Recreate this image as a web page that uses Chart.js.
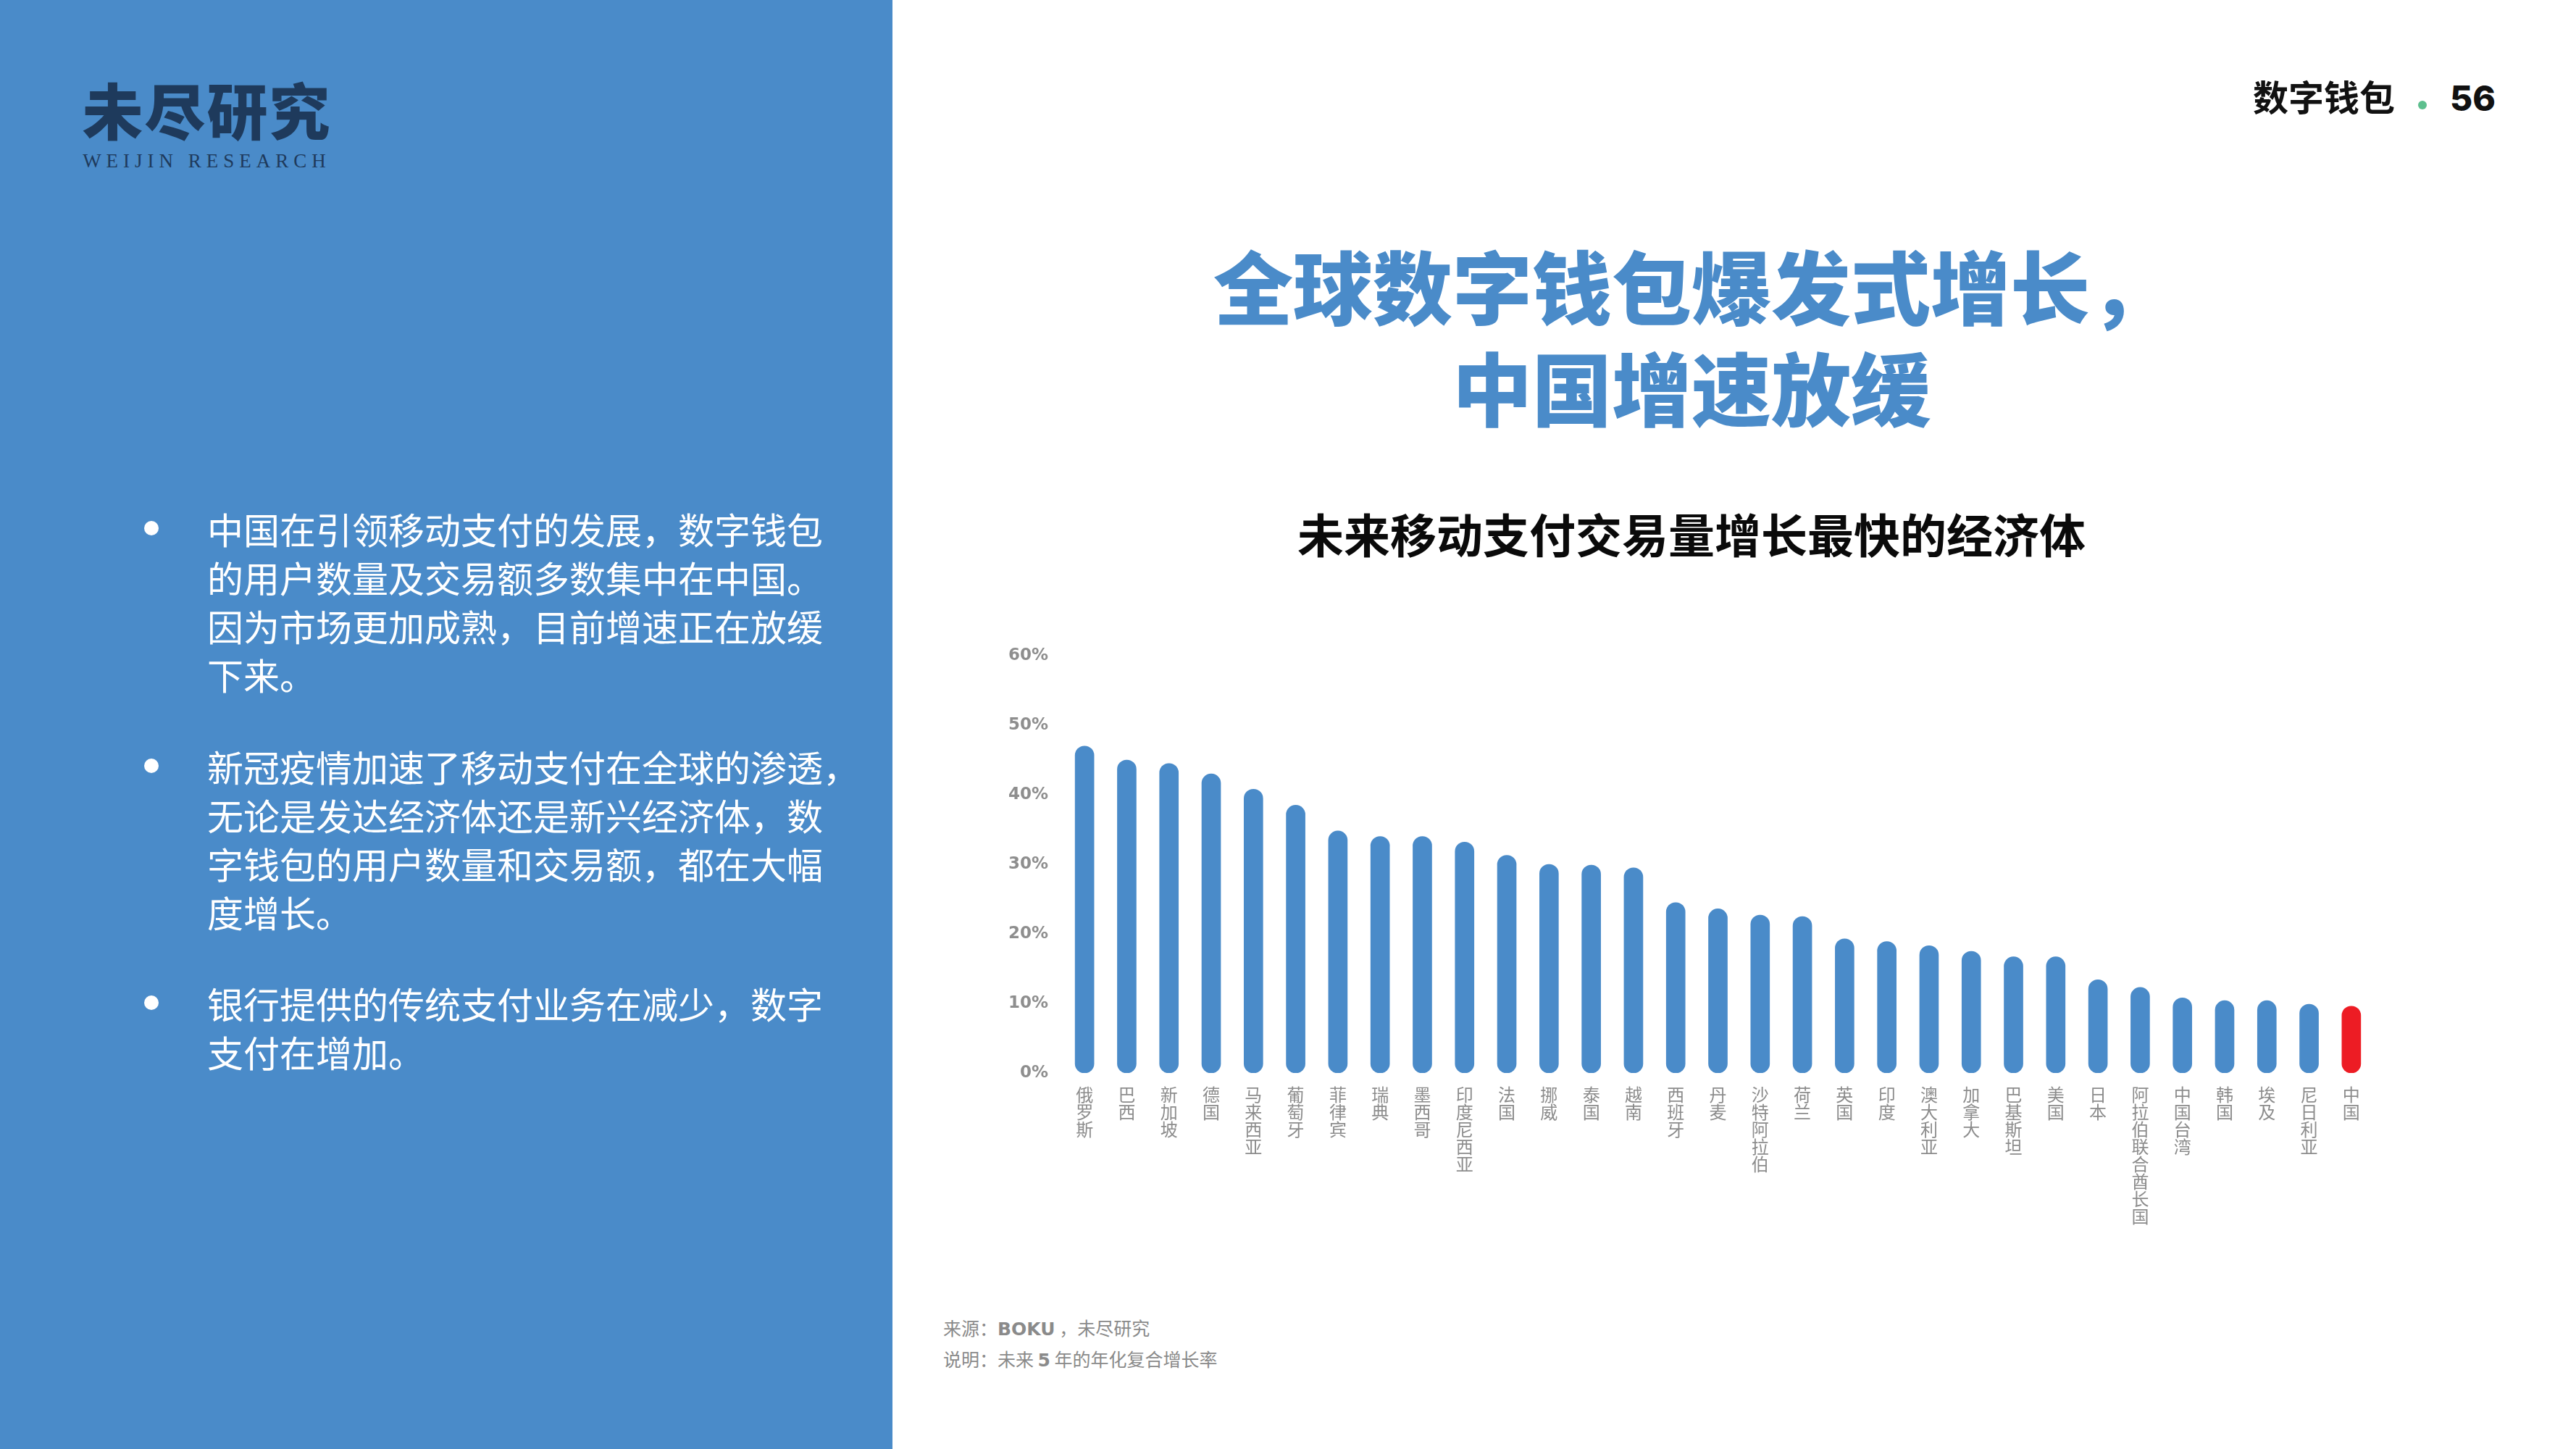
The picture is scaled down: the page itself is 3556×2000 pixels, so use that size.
<!DOCTYPE html>
<html>
<head>
<meta charset="utf-8">
<script src="https://cdn.jsdelivr.net/npm/chart.js@4.4.1/dist/chart.umd.min.js"></script>
<style>
  html, body { margin:0; padding:0; }
  body { width:3556px; height:2000px; position:relative; overflow:hidden; background:#ffffff; font-family:"Noto Sans CJK SC", sans-serif; }
  .panel { position:absolute; left:0; top:0; width:1232px; height:2000px; background:#4a8bc9; }
  .logo { position:absolute; left:108px; top:100px; width:355px; text-align:center; color:#1e3a5c; }
  .logo .cn { font-family:"Noto Sans CJK SC"; font-weight:900; font-size:84px; line-height:100px; letter-spacing:2px; }
  .logo .en { font-family:"Liberation Serif", "DejaVu Serif", serif; font-size:27px; line-height:30px; letter-spacing:7px; margin-top:7px; white-space:nowrap; }
  .bullet { position:absolute; left:286px; color:#ffffff; font-size:50px; line-height:67px; font-weight:400; white-space:nowrap; }
  .dot { position:absolute; width:20px; height:20px; border-radius:50%; background:#ffffff; }
  .header { position:absolute; top:102px; left:3110px; height:60px; line-height:60px; white-space:nowrap; color:#111; }
  .header .t { font-weight:700; font-size:49px; }
  .header .g { display:inline-block; width:12px; height:12px; border-radius:50%; background:#5dbf8e; vertical-align:middle; margin:0 32px 0 32px; position:relative; top:-4px; }
  .header .n { font-family:Inter, "Open Sans", sans-serif; font-weight:800; font-size:48px; }
  .title { position:absolute; left:1335px; width:2000px; top:322px; text-align:center; color:#4a8bc9; font-weight:900; font-size:110px; line-height:140px; }
  .ctitle { position:absolute; left:1335px; width:2000px; top:695px; text-align:center; color:#0a0a0a; font-weight:700; font-size:64px; line-height:80px; }
  .foot { position:absolute; left:1302px; top:1812px; color:#8a8a8a; font-size:25px; line-height:40px; white-space:nowrap; }
  .foot b { font-family:"DejaVu Sans", sans-serif; font-weight:700; }
  #wrap { position:absolute; left:1340px; top:860px; width:1960px; height:860px; }
</style>
</head>
<body>
<div class="panel"></div>
<div class="logo"><div class="cn">未尽研究</div><div class="en">WEIJIN RESEARCH</div></div>

<div class="dot" style="left:199px; top:719px;"></div>
<div class="bullet" style="top:696px;">中国在引领移动支付的发展，数字钱包<br>的用户数量及交易额多数集中在中国。<br>因为市场更加成熟，目前增速正在放缓<br>下来。</div>
<div class="dot" style="left:199px; top:1047px;"></div>
<div class="bullet" style="top:1024px;">新冠疫情加速了移动支付在全球的渗透，<br>无论是发达经济体还是新兴经济体，数<br>字钱包的用户数量和交易额，都在大幅<br>度增长。</div>
<div class="dot" style="left:199px; top:1374px;"></div>
<div class="bullet" style="top:1351px;">银行提供的传统支付业务在减少，数字<br>支付在增加。</div>

<div class="header"><span class="t">数字钱包</span><span class="g"></span><span class="n">56</span></div>
<div class="title">全球数字钱包爆发式增长，<br>中国增速放缓</div>
<div class="ctitle">未来移动支付交易量增长最快的经济体</div>

<div id="wrap"><canvas id="c"></canvas></div>

<div class="foot">来源：<b>BOKU</b> ，未尽研究<br>说明：未来 <b>5</b> 年的年化复合增长率</div>

<script>
const categories = ['俄罗斯','巴西','新加坡','德国','马来西亚','葡萄牙','菲律宾','瑞典','墨西哥','印度尼西亚','法国','挪威','泰国','越南','西班牙','丹麦','沙特阿拉伯','荷兰','英国','印度','澳大利亚','加拿大','巴基斯坦','美国','日本','阿拉伯联合酋长国','中国台湾','韩国','埃及','尼日利亚','中国'];
const growthRates = [47, 45, 44.5, 43, 40.8, 38.5, 34.8, 34, 34, 33.2, 31.3, 30, 29.9, 29.5, 24.5, 23.6, 22.7, 22.5, 19.3, 18.9, 18.3, 17.5, 16.7, 16.7, 13.4, 12.3, 10.8, 10.4, 10.4, 9.9, 9.6];
const highlightCategory = '中国';
const yTickValues = [0, 10, 20, 30, 40, 50, 60];

const BLUE = '#4a8bc9';
const RED = '#ed1c24';

new Chart(document.getElementById('c'), {
  type: 'bar',
  data: {
    labels: categories.map(c => c.split('')),
    datasets: [{
      data: growthRates,
      backgroundColor: categories.map(c => c === highlightCategory ? RED : BLUE),
      borderWidth: 0,
      borderRadius: 13,
      borderSkipped: false,
      barThickness: 26
    }]
  },
  options: {
    responsive: true,
    maintainAspectRatio: false,
    devicePixelRatio: 1,
    animation: false,
    layout: { padding: { top: 45, right: 25, left: 0, bottom: 0 } },
    plugins: { legend: { display: false }, tooltip: { enabled: false }, title: { display: false } },
    scales: {
      x: {
        grid: { display: false, drawTicks: false },
        border: { display: false },
        ticks: {
          autoSkip: false, maxRotation: 0, minRotation: 0, padding: 18,
          color: '#8c8c8c',
          font: { family: '"Noto Sans CJK SC"', size: 24, weight: 400, lineHeight: 1.0 }
        },
        afterFit: s => { s.height = 239; }
      },
      y: {
        min: 0, max: 60,
        afterBuildTicks: s => { s.ticks = yTickValues.map(v => ({ value: v })); },
        grid: { display: false, drawTicks: false },
        border: { display: false },
        ticks: {
          padding: 21,
          color: '#8e8e8e',
          font: { family: '"DejaVu Sans"', size: 23, weight: 700 },
          callback: v => v + '%'
        },
        afterFit: s => { s.width = 128; }
      }
    }
  }
});
</script>
</body>
</html>
